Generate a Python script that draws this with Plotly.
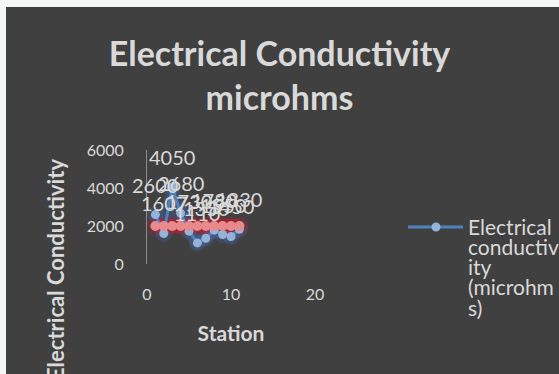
import plotly.graph_objects as go

stations = [1, 2, 3, 4, 5, 6, 7, 8, 9, 10, 11]
conductivity = [2600, 1607, 4050, 2680, 1730, 1110, 1350, 1780, 1550, 1450, 1830]
standard = [2000] * 11
legend_lines = ["Electrical", "conductiv", "ity", "(microhm", "s)"]

W, H = 559, 374
L, R, T, B = 147, 244, 150, 110
pw, ph = W - L - R, H - T - B

def px(x):
    return (x - L) / pw

def py(y):
    return (H - B - y) / ph

FONT = "Lato"
TXT = "#D9D9D9"
BG = "#404040"
BLUE = "#4F81BD"

fig = go.Figure()

# soft glow layers
fig.add_trace(go.Scatter(x=stations, y=conductivity, mode="lines+markers",
                         line=dict(color="rgba(70,120,210,0.22)", width=12),
                         marker=dict(size=17, color="rgba(70,120,210,0.2)"),
                         showlegend=False, hoverinfo="skip"))
fig.add_trace(go.Scatter(x=stations, y=standard, mode="lines+markers",
                         line=dict(color="rgba(190,30,50,0.4)", width=14),
                         marker=dict(size=18, color="rgba(190,30,50,0.3)"),
                         showlegend=False, hoverinfo="skip"))

fig.add_trace(go.Scatter(x=stations, y=conductivity, mode="lines+markers",
                         name="Electrical conductivity (microhms)",
                         line=dict(color=BLUE, width=3),
                         marker=dict(size=9, color="#95B3D7"),
                         showlegend=False))
fig.add_trace(go.Scatter(x=stations, y=standard, mode="lines+markers",
                         name="Standard",
                         line=dict(color="#E6878A", width=3),
                         marker=dict(size=10, color="#E8898C"),
                         showlegend=False))

for s, v in zip(stations, conductivity):
    fig.add_annotation(x=s, y=v, text=str(v), showarrow=False, yshift=30,
                       font=dict(family=FONT, size=20, color=TXT))

# white page strips around the chart area
fig.add_shape(type="rect", xref="paper", yref="paper",
              x0=px(0), x1=px(W), y0=py(0), y1=py(7),
              fillcolor="#F4F6F6", line=dict(width=0), layer="below")
fig.add_shape(type="rect", xref="paper", yref="paper",
              x0=px(0), x1=px(6), y0=py(0), y1=py(H),
              fillcolor="#F4F6F6", line=dict(width=0), layer="below")

# y-axis title, positioned like the reference
fig.add_annotation(xref="paper", yref="paper", x=px(55), y=py(269),
                   xanchor="center", yanchor="middle", textangle=-90,
                   text="<b>Electrical Conductivity</b>", showarrow=False,
                   font=dict(family=FONT, size=22, color=TXT))

# legend (drawn manually to match wrapped entry)
fig.add_shape(type="line", xref="paper", yref="paper",
              x0=px(408), x1=px(463), y0=py(227), y1=py(227),
              line=dict(color=BLUE, width=3))
fig.add_shape(type="circle", xref="paper", yref="paper",
              x0=px(431.5), x1=px(440.5), y0=py(222.5), y1=py(231.5),
              fillcolor="#95B3D7", line=dict(width=0))
for i, t in enumerate(legend_lines):
    fig.add_annotation(xref="paper", yref="paper", x=px(466), y=py(226 + 20.3 * i),
                       xanchor="left", yanchor="middle", text=t, showarrow=False,
                       font=dict(family=FONT, size=21, color=TXT))

fig.update_layout(
    width=W, height=H,
    margin=dict(l=L, r=R, t=T, b=B),
    paper_bgcolor=BG, plot_bgcolor=BG,
    font=dict(family=FONT, color=TXT),
    showlegend=False,
    title=dict(text="<b>Electrical Conductivity<br>microhms</b>",
               x=0.5, xref="container", xanchor="center",
               y=1 - 66 / H, yref="container", yanchor="middle",
               font=dict(family=FONT, size=34, color=TXT)),
    xaxis=dict(range=[0, 20], tickvals=[0, 10, 20], showgrid=False,
               zeroline=False, showline=False, ticks="outside", ticklen=16,
               tickcolor="rgba(0,0,0,0)", tickfont=dict(size=16, color=TXT),
               title=dict(text="<b>Station</b>", font=dict(size=21, color=TXT),
                          standoff=24)),
    yaxis=dict(range=[0, 6000], tickvals=[0, 2000, 4000, 6000], showgrid=False,
               zeroline=False, showline=True, linecolor="#8C8C8C", linewidth=1,
               ticks="outside", ticklen=19, tickcolor="rgba(0,0,0,0)",
               tickfont=dict(size=16, color=TXT)),
)

fig.write_html("out.html",
               config={"displayModeBar": False},
               post_script="document.body.style.margin='0';"
                           "document.body.style.overflow='hidden';"
                           "document.documentElement.style.overflow='hidden';")
